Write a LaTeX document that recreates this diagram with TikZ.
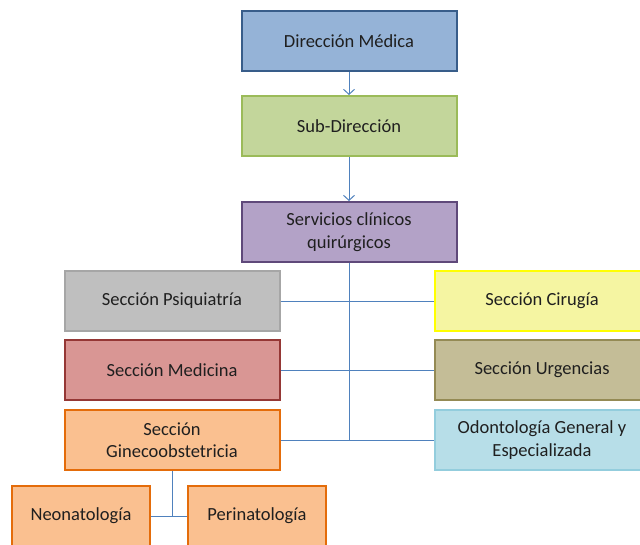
\documentclass[tikz,border=0pt]{standalone}
\usepackage{fontspec}
\setmainfont{Carlito}
\usetikzlibrary{arrows.meta}
\definecolor{linkblue}{HTML}{4F81BD}
\definecolor{dirfill}{HTML}{95B3D7}\definecolor{dirline}{HTML}{385D8A}
\definecolor{subfill}{HTML}{C3D69B}\definecolor{subline}{HTML}{9BBB59}
\definecolor{servfill}{HTML}{B3A2C7}\definecolor{servline}{HTML}{5F497A}
\definecolor{psiqfill}{HTML}{BFBFBF}\definecolor{psiqline}{HTML}{A6A6A6}
\definecolor{medfill}{HTML}{D99694}\definecolor{medline}{HTML}{953735}
\definecolor{ginefill}{HTML}{FAC090}\definecolor{gineline}{HTML}{E46C0A}
\definecolor{cirfill}{HTML}{F5F5A2}\definecolor{cirline}{HTML}{FFFF00}
\definecolor{urgfill}{HTML}{C4BD97}\definecolor{urgline}{HTML}{948A54}
\definecolor{odofill}{HTML}{B7DEE8}\definecolor{odoline}{HTML}{93CDDD}
\begin{document}
\begin{tikzpicture}[x=1pt,y=-1pt,
  unit/.style={rectangle, line width=2pt, minimum width=215pt, minimum height=60pt,
    inner sep=2pt, align=center, text=black!88,
    font=\fontsize{18.5}{22.5}\selectfont},
  smallunit/.style={unit, minimum width=138pt},
  link/.style={draw=linkblue, line width=1pt},
  arrowlink/.style={link, -{Straight Barb[length=5pt,width=11pt,line width=1pt]}}]
  \useasboundingbox (0,0) rectangle (640,544);
  \clip (0,0) rectangle (640,544);

  % top chain
  \node[unit, fill=dirfill, draw=dirline] (dir) at (349,41) {Dirección Médica};
  \node[unit, fill=subfill, draw=subline] (sub) at (349,126) {Sub-Dirección};
  \node[unit, fill=servfill, draw=servline] (serv) at (349,232) {Servicios clínicos\\quirúrgicos};

  % left column
  \node[unit, fill=psiqfill, draw=psiqline] (psiq) at (172,301) {Sección Psiquiatría};
  \node[unit, fill=medfill, draw=medline] (med) at (172,370) {Sección Medicina};
  \node[unit, fill=ginefill, draw=gineline] (gine) at (172,440) {Sección\\Ginecoobstetricia};

  % right column
  \node[unit, fill=cirfill, draw=cirline] (cir) at (542,301) {Sección Cirugía};
  \node[unit, fill=urgfill, draw=urgline] (urg) at (542,370) {Sección Urgencias};
  \node[unit, fill=odofill, draw=odoline] (odo) at (542,440) {Odontología General y\\Especializada};

  % bottom row
  \node[smallunit, fill=ginefill, draw=gineline] (neo) at (81,516) {Neonatología};
  \node[smallunit, fill=ginefill, draw=gineline] (peri) at (257,516) {Perinatología};

  % connectors
  \draw[arrowlink] (dir.south) -- (sub.north);
  \draw[arrowlink] (sub.south) -- (serv.north);
  \coordinate (trunk) at (serv.south |- odo.west);
  \draw[link] (serv.south) -- (trunk);
  \draw[link] (psiq.east) -- (cir.west);
  \draw[link] (med.east) -- (urg.west);
  \draw[link] (gine.east) -- (odo.west);
  \coordinate (fork) at (gine.south |- neo.east);
  \draw[link] (gine.south) -- (fork);
  \draw[link] (neo.east) -- (peri.west);
\end{tikzpicture}
\end{document}
